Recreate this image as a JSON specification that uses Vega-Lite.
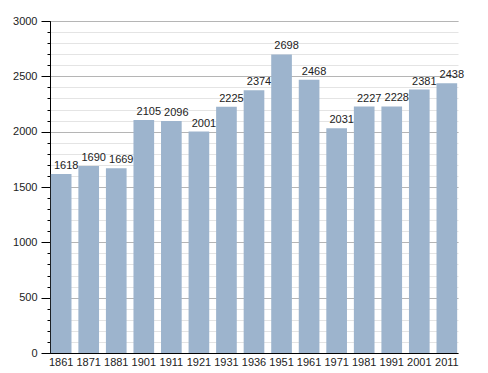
{
  "$schema": "https://vega.github.io/schema/vega-lite/v6.json",
  "width": 408,
  "height": 332,
  "autosize": {"type": "none"},
  "padding": {"left": 50, "top": 21, "right": 30, "bottom": 20},
  "background": "white",
  "config": {
    "view": {"stroke": null},
    "font": "Liberation Sans",
    "axis": {"labelFont": "Liberation Sans", "labelFontSize": 11, "labelColor": "#222", "domainColor": "#000", "tickColor": "#000", "title": null}
  },
  "data": {
    "values": [
      {"year": "1861", "pop": 1618},
      {"year": "1871", "pop": 1690},
      {"year": "1881", "pop": 1669},
      {"year": "1901", "pop": 2105},
      {"year": "1911", "pop": 2096},
      {"year": "1921", "pop": 2001},
      {"year": "1931", "pop": 2225},
      {"year": "1936", "pop": 2374},
      {"year": "1951", "pop": 2698},
      {"year": "1961", "pop": 2468},
      {"year": "1971", "pop": 2031},
      {"year": "1981", "pop": 2227},
      {"year": "1991", "pop": 2228},
      {"year": "2001", "pop": 2381},
      {"year": "2011", "pop": 2438}
    ]
  },
  "encoding": {
    "x": {
      "field": "year", "type": "ordinal", "sort": null,
      "scale": {"paddingInner": 0.25, "paddingOuter": 0.03},
      "axis": {"labelAngle": 0, "ticks": false, "labelPadding": 3, "domainWidth": 1}
    }
  },
  "layer": [
    {
      "mark": {"type": "bar", "color": "#9db4cd"},
      "encoding": {
        "y": {
          "field": "pop", "type": "quantitative",
          "scale": {"domain": [0, 3000], "nice": false},
          "axis": {
            "orient": "left",
            "values": [0,100,200,300,400,500,600,700,800,900,1000,1100,1200,1300,1400,1500,1600,1700,1800,1900,2000,2100,2200,2300,2400,2500,2600,2700,2800,2900,3000],
            "labels": false, "tickSize": 3, "grid": true, "gridColor": "#e4e4e4", "domain": false
          }
        }
      }
    },
    {
      "mark": {"type": "text", "baseline": "bottom", "dy": -3, "dx": 5, "fontSize": 11, "color": "#222", "font": "Liberation Sans"},
      "encoding": {
        "y": {
          "field": "pop", "type": "quantitative",
          "scale": {"domain": [0, 3000], "nice": false},
          "axis": {
            "orient": "left",
            "values": [0, 500, 1000, 1500, 2000, 2500, 3000],
            "format": "d",
            "tickSize": 9, "labelPadding": 4, "grid": true, "gridColor": "#b5b5b5", "domain": true
          }
        },
        "text": {"field": "pop", "type": "quantitative", "format": "d"}
      }
    }
  ],
  "resolve": {"axis": {"y": "independent"}}
}
